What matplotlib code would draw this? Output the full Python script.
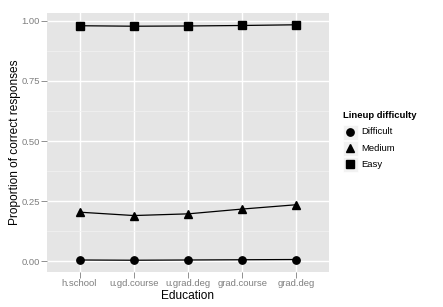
import matplotlib
matplotlib.use('Agg')
import matplotlib.pyplot as plt
from matplotlib.patches import Rectangle
import numpy as np

plt.rcParams['font.family'] = ['Liberation Sans', 'DejaVu Sans']

education = ["h.school", "u.gd.course", "u.grad.deg", "grad.course", "grad.deg"]
difficulty = ["Difficult", "Medium", "Easy"]
markers = ["o", "^", "s"]
marker_sizes = [5.3, 6.0, 5.1]

difficult = [0.005, 0.004, 0.005, 0.006, 0.007]
medium = [0.204, 0.190, 0.197, 0.217, 0.235]
easy = [0.980, 0.978, 0.979, 0.981, 0.984]
series = [difficult, medium, easy]

W, H = 443, 307
fig = plt.figure(figsize=(W / 100, H / 100), dpi=100)
fig.patch.set_facecolor('white')

# panel in pixels: left 47, right 329, top 13, bottom 272
ax = fig.add_axes([47 / W, 1 - 272 / H, (329 - 47) / W, (272 - 13) / H])
ax.set_facecolor('#E5E5E5')
for s in ax.spines.values():
    s.set_visible(False)

x = np.arange(1, len(education) + 1)
for vals, m, ms in zip(series, markers, marker_sizes):
    ax.plot(x, vals, color='black', lw=0.9, marker=m, markersize=ms, zorder=3)

lo = min(min(v) for v in series)
hi = max(max(v) for v in series)
pad = (hi - lo) * 0.05
ax.set_ylim(lo - pad, hi + pad)
ax.set_xlim(0.4, len(education) + 0.6)

yt = [0, 0.25, 0.5, 0.75, 1.0]
ax.set_yticks(yt)
ax.set_yticklabels(["0.00", "0.25", "0.50", "0.75", "1.00"])
ax.set_yticks([0.125, 0.375, 0.625, 0.875], minor=True)
ax.set_xticks(x)
ax.set_xticklabels(education)

ax.grid(True, which='major', color='white', lw=1.0, zorder=0)
ax.grid(True, which='minor', axis='y', color='#F2F2F2', lw=0.5, zorder=0)
ax.set_axisbelow(True)
ax.tick_params(which='major', length=4, width=0.6, color='#7F7F7F',
               labelcolor='#7F7F7F', labelsize=6.8, pad=1.2)
ax.tick_params(which='minor', length=0)

ax.set_xlabel("Education", fontsize=8.6, va='top')
ax.set_ylabel("Proportion of correct responses", fontsize=8.6, va='center')
ax.xaxis.set_label_coords(0.5, -0.068)
ax.yaxis.set_label_coords(-0.113, 0.5)

# legend drawn by hand, ggplot style
lax = fig.add_axes([0, 0, 1, 1])
lax.set_xlim(0, W)
lax.set_ylim(H, 0)
lax.axis('off')
lax.text(343, 116, "Lineup difficulty", fontsize=6.8, fontweight='bold',
         va='center', ha='left')
for i, (lab, m, ms) in enumerate(zip(difficulty, markers, marker_sizes)):
    cy = 132 + i * 16.2
    lax.add_patch(Rectangle((343, cy - 7.5), 15, 15, facecolor='#F2F2F2',
                            edgecolor='white', lw=0.5))
    lax.plot([350.5], [cy], marker=m, color='black', markersize=ms)
    lax.text(361, cy, lab, fontsize=6.8, va='center', ha='left')

fig.savefig("out.png", dpi=100)
